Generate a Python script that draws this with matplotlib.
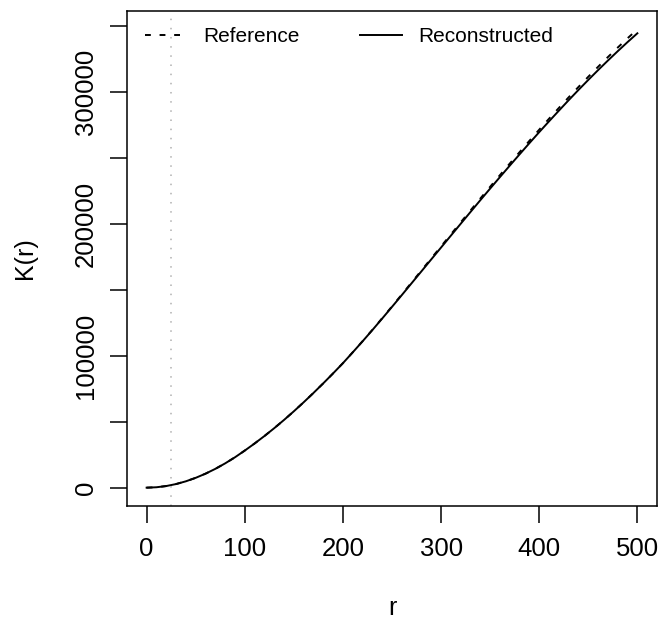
import numpy as np
import matplotlib.pyplot as plt

# distances r and the two K(r) curves
r = list(range(0, 501, 10))

k_reconstructed = [0, 310, 1230, 2740, 4820, 7450, 10600, 14250, 18400, 23000,
                   28100, 33450, 39100, 45050, 51300, 57850, 64680, 71750, 79050, 86570,
                   94300, 102500, 110830, 119370, 128100, 136950, 145880, 154880, 163880, 172910,
                   181910, 190910, 199890, 208840, 217750, 226550, 235280, 243930, 252490, 260950,
                   269300, 277480, 285530, 293490, 301250, 308850, 316280, 323530, 330600, 337490,
                   344150]

k_reference = [0, 310, 1230, 2740, 4820, 7450, 10600, 14250, 18400, 23000,
               28100, 33450, 39100, 45050, 51300, 57850, 64680, 71750, 79050, 86570,
               94300, 102550, 110930, 119520, 128350, 137300, 146330, 155430, 164530, 173660,
               182760, 191860, 200940, 209990, 219000, 227900, 236730, 245480, 254140, 262700,
               271150, 279430, 287580, 295640, 303500, 311230, 318780, 326160, 333350, 340370,
               347150]

r_cut = 25

x_ticks = [0, 100, 200, 300, 400, 500]
y_ticks = [0, 50000, 100000, 150000, 200000, 250000, 300000, 350000]
y_labels = ['0', '', '100000', '', '200000', '', '300000', '']

plt.rcParams['font.family'] = ['Liberation Sans', 'DejaVu Sans']

W, H = 661, 625
fig = plt.figure(figsize=(W / 100, H / 100), dpi=100)
ax = fig.add_axes([127 / W, (H - 506) / H, 530 / W, 495 / H])

ax.plot(r, k_reference, color='black', lw=1.4, ls=(0, (3, 4.5)), label='Reference')
ax.plot(r, k_reconstructed, color='black', lw=1.4, label='Reconstructed')
ax.axvline(r_cut, color='#b0b0b0', lw=1.1, ls=(0, (1, 5)))

ax.margins(x=0.04, y=0.04)
ax.set_xticks(x_ticks)
ax.set_yticks(y_ticks)
ax.set_yticklabels(y_labels)
ax.tick_params(axis='both', direction='out', length=12, width=1.1, labelsize=18.5, colors='black')
ax.tick_params(axis='x', pad=10)
ax.tick_params(axis='y', pad=9, labelrotation=90)
for lab in ax.get_yticklabels():
    lab.set_va('center')

for sp in ax.spines.values():
    sp.set_linewidth(1.1)

ax.set_xlabel('r', fontsize=18, va='center')
ax.set_ylabel('K(r)', fontsize=18, va='center')
ax.xaxis.set_label_coords(0.5, -(608 - 506) / 495)
ax.yaxis.set_label_coords(-(127 - 25) / 530, 0.5)

ax.legend(loc='upper left', bbox_to_anchor=(0.034, 0.967), ncol=2, frameon=False,
          fontsize=15, handlelength=2.0, handletextpad=0.8, columnspacing=2.9,
          borderpad=0, borderaxespad=0)

fig.savefig('out.png', dpi=100, facecolor='white')
